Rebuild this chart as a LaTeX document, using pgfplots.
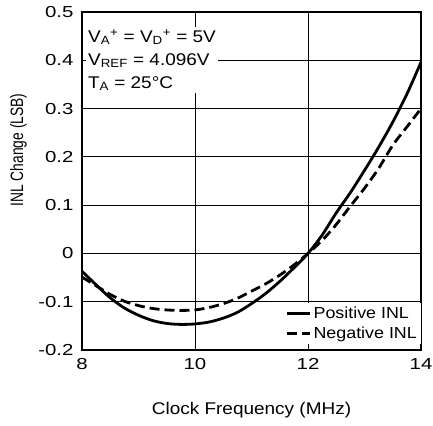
\documentclass[border=0pt]{standalone}
\usepackage{fontspec}
\setmainfont{Liberation Sans}
\newfontfamily\widefont{Liberation Sans}[FakeStretch=1.28]
\newfontfamily\midfont{Liberation Sans}[FakeStretch=1.12]
\newfontfamily\narrowfont{Liberation Sans}[FakeStretch=0.77]
\usepackage{pgfplots}
\pgfplotsset{compat=1.18}
\begin{document}
\begin{tikzpicture}
\begin{axis}[
  name=ax,
  scale only axis,
  width=339bp, height=338bp,
  xmin=8, xmax=14, ymin=-0.2, ymax=0.5,
  xtick={8,10,12,14},
  ytick={-0.2,-0.1,0,0.1,0.2,0.3,0.4,0.5},
  yticklabels={{-0.2},{-0.1},0,0.1,0.2,0.3,0.4,0.5},
  xticklabels={8,10,12,14},
  major tick length=0pt,
  grid=major,
  major grid style={black, line width=0.8bp},
  axis line style={line width=1.8bp},
  tick label style={font=\widefont\fontsize{16}{18}\selectfont},
  xticklabel style={yshift=-5bp},
  yticklabel style={xshift=-5bp},
  xlabel={Clock Frequency (MHz)},
  ylabel={INL Change (LSB)},
  xlabel style={font=\midfont\fontsize{17}{20}\selectfont, at={(rel axis cs:0.5,-0.178)}, anchor=center},
  ylabel style={font=\narrowfont\fontsize{18}{20}\selectfont, at={(rel axis cs:-0.187,0.592)}, anchor=center},
  legend style={at={(rel axis cs:1,0)}, anchor=south east, yshift=6bp, draw=none, fill=white,
    font=\midfont\fontsize{16}{18}\selectfont, inner sep=2bp, row sep=3bp,
    /tikz/every even column/.append style={column sep=0bp}},
  legend cell align=left,
  legend image code/.code={\draw[#1] (0bp,0bp) -- (23bp,0bp);},
]
\addplot[black, line width=2.8bp, smooth] coordinates {
(8.0,-0.037) (8.25,-0.065) (8.5,-0.092) (8.75,-0.113) (9.0,-0.128)
(9.25,-0.139) (9.5,-0.145) (9.75,-0.147) (10.0,-0.146) (10.25,-0.142)
(10.5,-0.134) (10.75,-0.122) (11.0,-0.104) (11.25,-0.083) (11.5,-0.058)
(11.75,-0.030) (12.0,0.0) (12.25,0.038) (12.5,0.084) (12.75,0.126)
(13.0,0.172) (13.25,0.220) (13.5,0.272) (13.75,0.330) (14.0,0.396)
};
\addlegendentry{Positive INL}
\addplot[black, line width=2.8bp, dash pattern=on 10bp off 5bp, smooth] coordinates {
(8.0,-0.049) (8.25,-0.067) (8.5,-0.085) (8.75,-0.099) (9.0,-0.108)
(9.25,-0.114) (9.5,-0.117) (9.75,-0.118) (10.0,-0.117) (10.25,-0.112)
(10.5,-0.104) (10.75,-0.093) (11.0,-0.078) (11.25,-0.063) (11.5,-0.045)
(11.75,-0.024) (12.0,0.0) (12.25,0.027) (12.5,0.060) (12.75,0.098)
(13.0,0.135) (13.25,0.176) (13.5,0.224) (13.75,0.262) (14.0,0.300)
};
\addlegendentry{Negative INL}
\node[anchor=north west, fill=white, align=left, inner sep=2bp,
  font=\midfont\fontsize{17}{23}\selectfont] at (axis cs:8.07,0.469)
  {V\textsubscript{A}\textsuperscript{+} = V\textsubscript{D}\textsuperscript{+} = 5V\\
   V\textsubscript{REF} = 4.096V\\
   T\textsubscript{A} = 25°C};
\end{axis}
\pgfresetboundingbox
\path ([shift={(-82bp,-75bp)}]ax.south west) rectangle ([shift={(12bp,12bp)}]ax.north east);
\end{tikzpicture}
\end{document}
